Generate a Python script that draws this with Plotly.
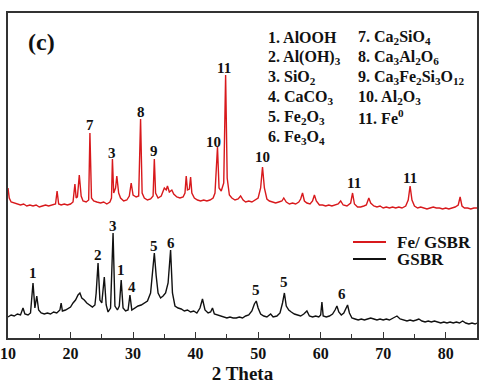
import plotly.graph_objects as go

# ---- Fe/GSBR (red) pattern: 2-theta and intensity (a.u.) ----
fe_x = [10.0, 10.2, 10.5, 11, 11.5, 12, 12.5, 13, 13.5, 14, 14.5, 15, 15.5, 16, 16.5, 17, 17.6, 17.85, 18.1,
        18.5, 19, 19.5, 20, 20.4, 20.7, 20.9, 21.1, 21.4, 21.7, 22, 22.5, 22.9, 23.1, 23.35, 23.7, 24.2, 24.8,
        25.3, 25.8, 26.3, 26.55, 26.7, 26.9, 27.2, 27.4, 27.7, 28, 28.5, 29, 29.4, 29.7, 30.0, 30.5, 30.9,
        31.2, 31.45, 31.8, 32.3, 32.8, 33.2, 33.4, 33.6, 34.0, 34.5, 34.8, 35.0, 35.3, 35.5, 35.8, 36.2,
        36.5, 37, 37.5, 38, 38.3, 38.5, 38.7, 39.0, 39.2, 39.4, 39.8, 40.3, 40.8, 41.3, 41.8, 42.3, 42.8,
        43.1, 43.5, 43.75, 44.1, 44.5, 44.8, 45.05, 45.4, 45.8, 46.3, 46.8, 47.2, 47.6, 48, 48.5, 49, 49.5,
        50.0, 50.4, 50.7, 51.0, 51.4, 51.8, 52.3, 52.8, 53.3, 53.8, 54.1, 54.5, 55, 55.5, 56, 56.5, 56.8,
        57.1, 57.4, 57.8, 58.3, 58.7, 59.0, 59.3, 59.8, 60.3, 60.8, 61.3, 61.8, 62.3, 62.8, 63.2, 63.6,
        64.2, 64.8, 65.1, 65.4, 65.9, 66.4, 66.9, 67.3, 67.7, 68.0, 68.5, 69, 69.5, 70, 70.5, 71, 71.5, 72,
        72.5, 73, 73.6, 74.0, 74.3, 74.6, 75, 75.5, 76, 76.5, 77, 77.5, 78, 78.5, 79, 79.5, 80, 80.5, 81,
        81.5, 82.0, 82.3, 82.6, 83, 83.5, 84, 84.5, 85]
fe_y = [150, 140, 136, 135, 134, 133, 134, 132, 133, 132, 133, 131, 132, 133, 132, 133, 134, 147, 134,
        133, 134, 133, 134, 136, 154, 140, 141, 163, 142, 137, 136, 138, 205, 140, 137, 136, 135,
        136, 134, 136, 140, 179, 145, 150, 162, 145, 140, 137, 138, 142, 155, 143, 141, 142,
        219, 145, 140, 138, 139, 142, 179, 145, 140, 142, 148, 150, 148, 152, 146, 148,
        144, 141, 140, 141, 145, 162, 148, 149, 161, 145, 140, 138, 137, 138, 137, 138, 140,
        145, 191, 150, 147, 155, 263, 160, 143, 140, 138, 139, 142, 138, 136, 137, 136, 138,
        140, 150, 171, 150, 139, 137, 136, 135, 136, 137, 140, 136, 134, 135, 134, 136, 139,
        145, 137, 135, 134, 137, 143, 137, 133, 133, 132, 133, 132, 133, 134, 137, 133,
        132, 135, 145, 134, 131, 131, 132, 133, 140, 135, 132, 131, 132, 130, 131, 130, 131, 130,
        131, 130, 132, 138, 152, 138, 132, 130, 131, 130, 129, 130, 131, 130, 130, 129, 130, 129, 130,
        131, 133, 141, 132, 130, 130, 129, 130, 130]

# ---- GSBR (black) pattern ----
gs_x = [10, 10.5, 11, 11.5, 12, 12.4, 12.7, 13.2, 13.6, 14.0, 14.3, 14.6, 14.9, 15.3, 15.8, 16.3, 16.8,
        17.3, 17.8, 18.3, 18.5, 18.7, 19.2, 19.7, 20.0, 20.4, 20.8, 21.2, 21.5, 21.8, 22.2, 22.6, 23.0,
        23.5, 23.9, 24.1, 24.4, 24.7, 25.0, 25.4, 25.7, 26.0, 26.4, 26.8, 27.1, 27.5, 27.8, 28.1, 28.4,
        28.8, 29.2, 29.5, 29.8, 30.3, 30.8, 31.3, 31.8, 32.3, 32.8, 33.1, 33.4, 33.7, 34.0, 34.4, 34.8,
        35.2, 35.6, 36.0, 36.3, 36.7, 37.2, 37.7, 38.2, 38.7, 39.2, 39.7, 40.2, 40.7, 41.1, 41.5, 42.0,
        42.4, 42.7, 43.0, 43.5, 44, 44.5, 45, 45.5, 46, 46.5, 47, 47.5, 48, 48.5, 49.0, 49.4, 49.7, 50.0,
        50.4, 50.9, 51.4, 52.0, 52.4, 53.0, 53.5, 53.9, 54.2, 54.5, 54.9, 55.3, 55.8, 56.3, 56.8, 57.3,
        57.8, 58.2, 58.7, 59.2, 59.7, 60.0, 60.2, 60.4, 60.9, 61.4, 61.9, 62.3, 62.6, 62.9, 63.3, 63.7,
        64.0, 64.3, 64.6, 65.0, 65.5, 66, 66.5, 67, 67.5, 68, 68.5, 69, 69.5, 70, 70.5, 71, 71.6, 72.2,
        72.7, 73.2, 73.8, 74.3, 74.8, 75.3, 75.7, 76.2, 76.7, 77.2, 77.7, 78.2, 78.7, 79.2, 79.7, 80.2,
        80.7, 81.2, 81.7, 82.2, 82.7, 83.2, 83.7, 84.2, 84.7, 85]
gs_y = [21, 23, 22, 24, 23, 30, 24, 23, 25, 55, 30, 42, 28, 25, 24, 25, 24,
        26, 25, 28, 35, 27, 28, 30, 31, 35, 38, 43, 45, 40, 38, 35, 33,
        31, 33, 45, 75, 38, 35, 61, 33, 26, 30, 105, 32, 28, 32, 58, 30,
        27, 28, 43, 28, 30, 32, 33, 35, 37, 45, 65, 85, 62, 45, 40, 42,
        45, 55, 88, 45, 32, 30, 29, 27, 28, 26, 27, 25, 30, 39, 28, 25,
        26, 30, 24, 23, 22, 21, 20, 21, 20, 20, 21, 20, 22, 23, 27, 34, 37, 30,
        24, 22, 21, 24, 21, 22, 25, 35, 45, 32, 28, 26, 24, 23, 22, 24,
        27, 22, 21, 22, 21, 23, 36, 22, 21, 22, 24, 28, 32, 26, 23, 25,
        30, 33, 25, 20, 19, 18, 19, 18, 19, 20, 19, 18, 19, 18, 19, 18, 20, 22,
        19, 18, 17, 18, 17, 18, 19, 17, 16, 17, 16, 17, 16, 15, 16, 15,
        16, 15, 16, 15, 17, 15, 14, 15, 14, 15]

# ---- peak labels ----
fe_lab_text = ["7", "3", "8", "9", "10", "11", "10", "11", "11"]
fe_lab_x = [23.1, 26.7, 31.2, 33.4, 42.9, 44.5, 50.7, 65.3, 74.3]
fe_lab_y = [213, 185, 226, 187, 196, 270, 181, 155, 160]

gs_lab_text = ["1", "2", "3", "1", "4", "5", "6", "5", "5", "6"]
gs_lab_x = [14.0, 24.4, 26.8, 28.1, 29.8, 33.3, 36.0, 49.7, 54.2, 63.4]
gs_lab_y = [65, 83, 112, 68, 51, 92, 95, 48, 56, 44]

# ---- phase list ----
phases_col1 = ["1. AlOOH", "2. Al(OH)<sub>3</sub>", "3. SiO<sub>2</sub>", "4. CaCO<sub>3</sub>",
               "5. Fe<sub>2</sub>O<sub>3</sub>", "6. Fe<sub>3</sub>O<sub>4</sub>"]
phases_col2 = ["7. Ca<sub>2</sub>SiO<sub>4</sub>", "8. Ca<sub>3</sub>Al<sub>2</sub>O<sub>6</sub>",
               "9. Ca<sub>3</sub>Fe<sub>2</sub>Si<sub>3</sub>O<sub>12</sub>", "10. Al<sub>2</sub>O<sub>3</sub>",
               "11. Fe<sup>0</sup>"]

series_names = ["Fe/ GSBR", "GSBR"]
series_colors = ["#d8191c", "#111111"]

x_ticks = [10, 20, 30, 40, 50, 60, 70, 80]

FONT = "Liberation Serif, Times New Roman, serif"
W, H = 491, 390
ML, MR, MT, MB = 8, 14, 13, 52

fig = go.Figure()
fig.add_trace(go.Scatter(x=fe_x, y=fe_y, mode="lines", name=series_names[0], showlegend=False,
                         line=dict(color=series_colors[0], width=1.4)))
fig.add_trace(go.Scatter(x=gs_x, y=gs_y, mode="lines", name=series_names[1], showlegend=False,
                         line=dict(color=series_colors[1], width=1.4)))

ann = []
for t, x, y in zip(fe_lab_text + gs_lab_text, fe_lab_x + gs_lab_x, fe_lab_y + gs_lab_y):
    ann.append(dict(x=x, y=y, xref="x", yref="y", text=f"<b>{t}</b>", showarrow=False,
                    font=dict(family=FONT, size=15, color="#111"), xanchor="center", yanchor="middle"))

pw = W - ML - MR
ph = H - MT - MB
def px2paper(px, py):
    return (px - ML) / pw, 1 - (py - MT) / ph

row_y = [38, 58, 78, 98, 117, 137]
for i, t in enumerate(phases_col1):
    xx, yy = px2paper(266, row_y[i])
    ann.append(dict(x=xx, y=yy, xref="paper", yref="paper", text=f"<b>{t}</b>", showarrow=False,
                    font=dict(family=FONT, size=16, color="#111"), xanchor="left", yanchor="middle"))
for i, t in enumerate(phases_col2):
    xx, yy = px2paper(356, row_y[i])
    ann.append(dict(x=xx, y=yy, xref="paper", yref="paper", text=f"<b>{t}</b>", showarrow=False,
                    font=dict(family=FONT, size=16, color="#111"), xanchor="left", yanchor="middle"))

xx, yy = px2paper(26, 42)
ann.append(dict(x=xx, y=yy, xref="paper", yref="paper", text="<b>(c)</b>", showarrow=False,
                font=dict(family=FONT, size=24, color="#111"), xanchor="left", yanchor="middle"))

# legend (drawn as line samples + labels)
shapes = []
leg_y = [242, 259]
for i, (nm, col) in enumerate(zip(series_names, series_colors)):
    x0, y0 = px2paper(353, leg_y[i])
    x1, _ = px2paper(386, leg_y[i])
    shapes.append(dict(type="line", xref="paper", yref="paper", x0=x0, x1=x1, y0=y0, y1=y0,
                       line=dict(color=col, width=2)))
    tx, _ = px2paper(396, leg_y[i])
    ann.append(dict(x=tx, y=y0, xref="paper", yref="paper", text=f"<b>{nm}</b>", showarrow=False,
                    font=dict(family=FONT, size=17, color="#111"), xanchor="left", yanchor="middle",
                    borderpad=0))

fig.update_layout(
    width=W, height=H,
    margin=dict(l=ML, r=MR, t=MT, b=MB, autoexpand=False),
    paper_bgcolor="white", plot_bgcolor="white",
    showlegend=False,
    annotations=ann,
    shapes=shapes,
    xaxis=dict(range=[10, 85], tickvals=x_ticks, ticktext=[f"<b>{v}</b>" for v in x_ticks],
               ticks="inside", ticklen=6, tickwidth=1.3, tickcolor="#333",
               minor=dict(ticks="inside", ticklen=4, dtick=5, tick0=5, tickcolor="#333", tickwidth=1.2),
               showline=True, linecolor="#333", linewidth=1.5, mirror=True,
               showgrid=False, zeroline=False, automargin=False,
               tickfont=dict(family=FONT, size=16, color="#111"),
               title=dict(text="<b>2 Theta</b>", font=dict(family=FONT, size=19, color="#111"), standoff=6)),
    yaxis=dict(range=[0, 325], showticklabels=False, ticks="", showline=True, linecolor="#333",
               linewidth=1.5, mirror=True, showgrid=False, zeroline=False, automargin=False),
)
fig.write_html("out.html", config={"displayModeBar": False},
               post_script="document.body.style.margin='0';")
